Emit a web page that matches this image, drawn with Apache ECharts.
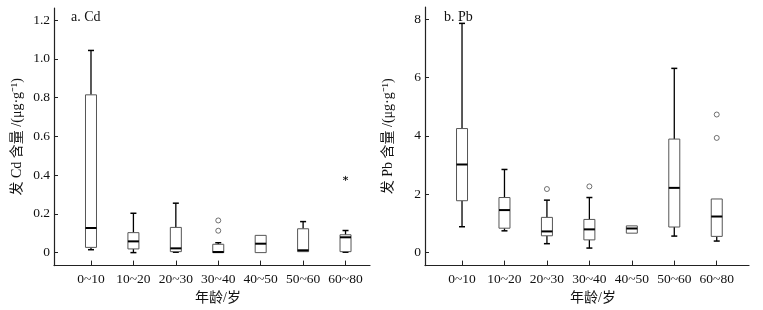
<!DOCTYPE html>
<html>
<head>
<meta charset="utf-8">
<script src="https://cdn.jsdelivr.net/npm/echarts@6/dist/echarts.min.js"></script>
<style>
  html, body { margin: 0; padding: 0; background: #fff; }
  #main { width: 763px; height: 310px; }
</style>
</head>
<body>
<div id="main"></div>
<script>
// 年龄组
const ageGroups = ['0~10', '10~20', '20~30', '30~40', '40~50', '50~60', '60~80']
// Cd: [min, Q1, median, Q3, max]
const cdBoxes = [
    [0.015, 0.027, 0.127, 0.814, 1.043],
    [0.0, 0.019, 0.058, 0.103, 0.203],
    [0.002, 0.005, 0.022, 0.13, 0.255],
    [0.0, 0.0, 0.003, 0.043, 0.051],
    [0.0, 0.0, 0.046, 0.089, 0.089],
    [0.003, 0.005, 0.012, 0.123, 0.16],
    [0.002, 0.005, 0.079, 0.092, 0.114]
]
// Cd 异常值 [组序号, 值]
const cdOutliers = [[4, 0.166], [4, 0.113]]
const cdExtremes = [[7, 0.383]]
// Pb
const pbBoxes = [
    [0.89, 1.78, 3.02, 4.25, 7.85],
    [0.75, 0.84, 1.46, 1.89, 2.85],
    [0.31, 0.58, 0.73, 1.21, 1.8],
    [0.16, 0.44, 0.8, 1.14, 1.89],
    [0.67, 0.67, 0.83, 0.92, 0.92],
    [0.57, 0.88, 2.22, 3.89, 6.31],
    [0.4, 0.56, 1.24, 1.84, 1.84]
]
const pbOutliers = [[3, 2.18], [4, 2.27], [7, 4.73], [7, 3.93]]
const cdTicks = [0, 0.2, 0.4, 0.6, 0.8, 1.0, 1.2]
const pbTicks = [0, 2, 4, 6, 8]
const catTicks = [1, 2, 3, 4, 5, 6, 7]

const font = '"Liberation Serif", "Times New Roman", "Noto Sans CJK SC", serif'

function boxItem(params, api) {
    const x = api.value(0)
    const lo = api.coord([x, api.value(1)])
    const q1 = api.coord([x, api.value(2)])
    const md = api.coord([x, api.value(3)])
    const q3 = api.coord([x, api.value(4)])
    const hi = api.coord([x, api.value(5)])
    const cx = lo[0]
    const hw = 5.5 // 箱体半宽
    const cw = 3 // 须端半宽
    const children = []
    const line = (x1, y1, x2, y2, w, c) => ({
        type: 'line',
        shape: {x1, y1, x2, y2},
        style: {stroke: c || '#000', lineWidth: w}
    })
    if (hi[1] < q3[1] - 0.5) {
        children.push(line(cx, q3[1], cx, hi[1], 1.3))
        children.push(line(cx - cw, hi[1], cx + cw, hi[1], 1.5))
    }
    if (lo[1] > q1[1] + 0.5) {
        children.push(line(cx, q1[1], cx, lo[1], 1.3))
        children.push(line(cx - cw, lo[1], cx + cw, lo[1], 1.5))
    }
    children.push({
        type: 'rect',
        shape: {x: cx - hw, y: q3[1], width: hw * 2, height: q1[1] - q3[1]},
        style: {fill: '#fff', stroke: '#555', lineWidth: 1}
    })
    children.push(line(cx - hw, md[1], cx + hw, md[1], 2))
    return {type: 'group', children}
}

function xAxisOf(idx, max) {
    return {
        type: 'value',
        gridIndex: idx,
        min: 0.128,
        max: max,
        name: '年龄/岁',
        nameLocation: 'middle',
        nameGap: 21,
        nameTextStyle: {fontFamily: font, fontSize: 14, color: '#111', padding: [0, 0, 0, 12]},
        splitLine: {show: false},
        axisLine: {show: true, onZero: false, lineStyle: {color: '#222', width: 1.2}},
        axisTick: {show: true, inside: true, length: 5, customValues: catTicks, lineStyle: {color: '#222'}},
        axisLabel: {
            customValues: catTicks,
            margin: 7,
            fontFamily: font,
            fontSize: 13.5,
            color: '#111',
            formatter: v => ageGroups[Math.round(v) - 1]
        }
    }
}

function yAxisOf(idx, min, max, ticks, name, fmt) {
    return {
        type: 'value',
        gridIndex: idx,
        min: min,
        max: max,
        name: name,
        nameLocation: 'middle',
        nameGap: 30,
        nameTextStyle: {fontFamily: font, fontSize: 14, color: '#111'},
        splitLine: {show: false},
        axisLine: {show: true, onZero: false, lineStyle: {color: '#222', width: 1.2}},
        axisTick: {show: true, inside: true, length: 4, customValues: ticks, lineStyle: {color: '#222'}},
        axisLabel: {
            customValues: ticks,
            margin: 4,
            fontFamily: font,
            fontSize: 13.5,
            color: '#111',
            formatter: fmt
        }
    }
}

const chart = echarts.init(document.getElementById('main'))
const asterisk = 'path://M5 0L5 10M0.7 2.5L9.3 7.5M0.7 7.5L9.3 2.5'

chart.setOption({
    backgroundColor: '#fff',
    animation: false,
    title: [
        {text: 'a. Cd', left: 66, top: 5, textStyle: {fontFamily: font, fontSize: 14, fontWeight: 'normal', color: '#111'}},
        {text: 'b. Pb', left: 439, top: 5, textStyle: {fontFamily: font, fontSize: 14, fontWeight: 'normal', color: '#111'}}
    ],
    grid: [
        {left: 54, right: 393, top: 8, bottom: 43},
        {left: 425, right: 14, top: 7, bottom: 43}
    ],
    xAxis: [xAxisOf(0, 7.577), xAxisOf(1, 7.76)],
    yAxis: [
        yAxisOf(0, -0.067, 1.262, cdTicks, '发 Cd 含量 /(μg·g⁻¹)', v => (v === 0 ? '0' : v.toFixed(1))),
        yAxisOf(1, -0.44, 8.41, pbTicks, '发 Pb 含量 /(μg·g⁻¹)', v => String(v))
    ],
    series: [
        {
            type: 'custom',
            xAxisIndex: 0,
            yAxisIndex: 0,
            renderItem: boxItem,
            data: cdBoxes.map((b, i) => [i + 1].concat(b))
        },
        {
            type: 'scatter',
            xAxisIndex: 0,
            yAxisIndex: 0,
            symbol: 'circle',
            symbolSize: 5,
            itemStyle: {color: '#fff', borderColor: '#222', borderWidth: 0.8},
            data: cdOutliers
        },
        {
            type: 'scatter',
            xAxisIndex: 0,
            yAxisIndex: 0,
            symbol: asterisk,
            symbolSize: 5,
            itemStyle: {color: 'none', borderColor: '#000', borderWidth: 1},
            data: cdExtremes
        },
        {
            type: 'custom',
            xAxisIndex: 1,
            yAxisIndex: 1,
            renderItem: boxItem,
            data: pbBoxes.map((b, i) => [i + 1].concat(b))
        },
        {
            type: 'scatter',
            xAxisIndex: 1,
            yAxisIndex: 1,
            symbol: 'circle',
            symbolSize: 5,
            itemStyle: {color: '#fff', borderColor: '#222', borderWidth: 0.8},
            data: pbOutliers
        }
    ]
})
</script>
</body>
</html>
